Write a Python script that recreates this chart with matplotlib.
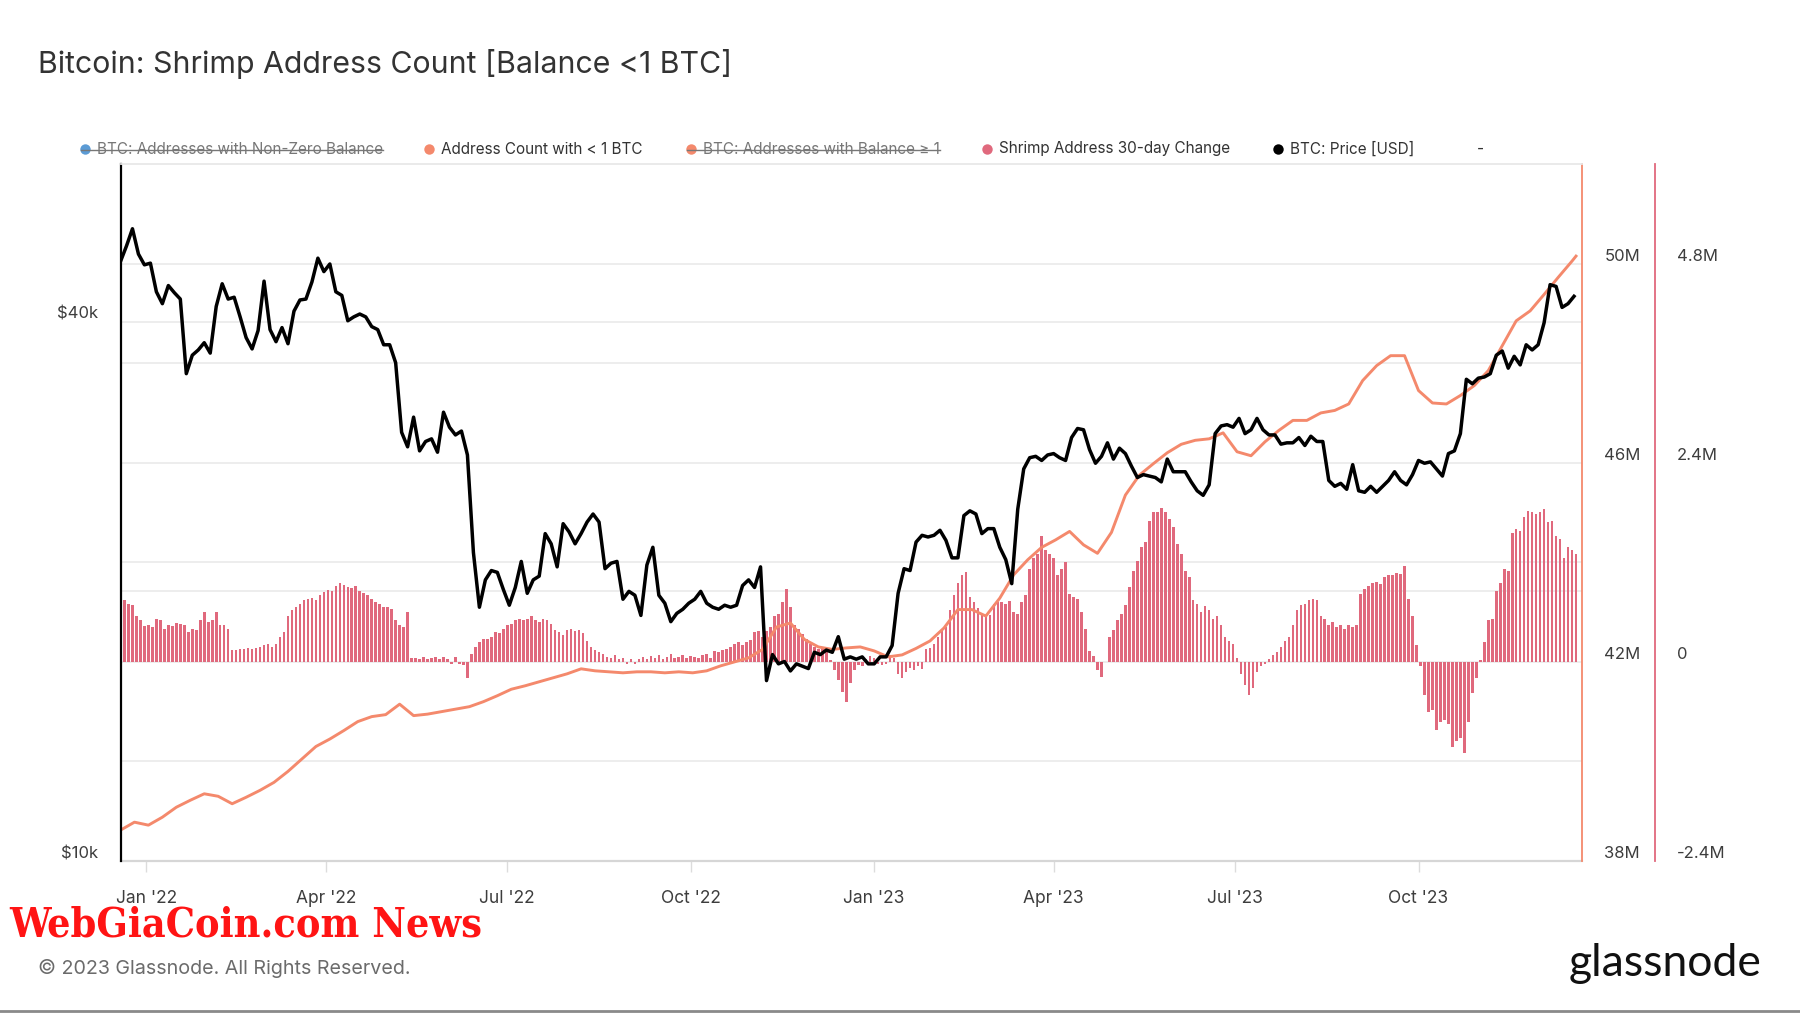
import matplotlib
matplotlib.use("Agg")
import matplotlib.pyplot as plt
import matplotlib.dates as mdates
import matplotlib.ticker as mticker
from matplotlib.transforms import blended_transform_factory
from matplotlib.lines import Line2D
import pandas as pd

plt.rcParams['font.family'] = ['Inter', 'DejaVu Sans']

# BTC price [k USD], one value every 3 days from 2021-12-19
price_k = [
    46.7, 48.6, 50.8, 47.6, 46.3,
    46.5, 43.2, 41.9, 43.9, 43.1, 42.4, 35.0, 36.7, 37.2, 37.9,
    36.9, 41.6, 44.1, 42.4, 42.6, 40.5, 38.4, 37.3, 39.1,
    44.4, 39.2, 38.0, 39.4, 37.8, 41.1, 42.3, 42.4, 44.3, 47.1, 45.5,
    46.4, 43.2, 42.8, 40.1, 40.5, 40.8, 40.5, 39.5, 39.2, 37.7,
    37.7, 36.0, 30.1, 29.0, 31.3, 28.7, 29.4, 29.6, 28.6, 31.7,
    30.5, 29.9, 30.2, 28.4, 22.1, 19.2, 20.6, 21.1, 21.0, 20.1,
    19.3, 20.2, 21.6, 19.9, 20.6, 20.8, 23.2, 22.6, 21.3, 23.8,
    23.3, 22.6, 23.2, 23.9, 24.4, 23.9, 21.2, 21.5, 21.6, 19.6, 20.0,
    19.8, 18.8, 21.4, 22.4, 19.8, 19.4, 18.5, 18.9, 19.1, 19.4,
    19.6, 20.0, 19.4, 19.2, 19.1, 19.3, 19.2, 19.3, 20.3, 20.6,
    20.2, 21.3, 15.9, 17.0, 16.6, 16.7, 16.3, 16.6, 16.5, 16.4,
    17.1, 17.0, 17.2, 17.1, 17.8, 16.8, 16.9, 16.8, 16.9, 16.6,
    16.6, 16.9, 16.9, 17.4, 19.9, 21.2, 21.1, 22.7, 23.1, 23.0, 23.1,
    23.4, 22.8, 21.8, 21.8, 24.3, 24.6, 24.4, 23.2, 23.5,
    23.5, 22.4, 21.7, 20.4, 24.7, 27.4, 28.2, 28.3, 28.0, 28.4,
    28.5, 28.2, 28.0, 29.7, 30.4, 30.3, 28.8, 27.8, 28.3, 29.3,
    28.1, 28.9, 28.5, 27.6, 26.8, 27.0, 26.9, 26.8, 26.5, 28.1, 27.2,
    27.2, 27.2, 26.5, 25.9, 25.6, 26.3, 30.0, 30.6, 30.7, 30.5,
    31.2, 30.0, 30.3, 31.2, 30.3, 29.9, 29.9, 29.2, 29.3, 29.3,
    29.7, 29.1, 29.8, 29.4, 29.4, 26.6, 26.2, 26.4, 26.0, 27.7,
    25.9, 25.8, 26.2, 25.8, 26.2, 26.6, 27.2, 26.6, 26.3, 27.0,
    28.0, 27.8, 27.9, 27.4, 26.9, 28.5, 28.7, 30.0, 34.5, 34.1, 34.6,
    34.7, 35.0, 36.7, 37.1, 35.5, 36.6, 35.8, 37.7, 37.2, 37.7,
    39.9, 44.0, 43.8, 41.5, 41.9, 42.7,
]

# Address count with < 1 BTC [M], weekly from 2021-12-19, last point 2023-12-19
shrimp_count_m = [
    38.62, 38.78, 38.72, 38.88, 39.08, 39.22, 39.35, 39.30, 39.15, 39.28,
    39.42, 39.58, 39.80, 40.05, 40.30, 40.45, 40.62, 40.80, 40.90, 40.94,
    41.15, 40.92, 40.95, 41.00, 41.05, 41.10, 41.20, 41.32, 41.45, 41.52,
    41.60, 41.68, 41.76, 41.86, 41.82, 41.80, 41.78, 41.80, 41.80, 41.78,
    41.80, 41.78, 41.82, 41.92, 42.00, 42.08, 42.25, 42.70, 42.78, 42.45,
    42.30, 42.25, 42.28, 42.30, 42.22, 42.10, 42.14, 42.27, 42.42, 42.68,
    43.05, 43.05, 42.92, 43.28, 43.75, 44.05, 44.30, 44.45, 44.62, 44.35,
    44.18, 44.60, 45.35, 45.75, 45.98, 46.20, 46.37, 46.45, 46.48, 46.60,
    46.22, 46.14, 46.42, 46.65, 46.85, 46.85, 47.00, 47.05, 47.18, 47.65,
    47.95, 48.15, 48.15, 47.45, 47.20, 47.18, 47.35, 47.55, 47.85, 48.35,
    48.85, 49.05, 49.38, 49.72, 50.05,
    50.15,
]

# Shrimp address 30-day change [M], one bar every 2 days from 2021-12-19
change_30d_m = [
    0.72, 0.75, 0.70, 0.68, 0.55, 0.50, 0.43, 0.44, 0.42, 0.52,
    0.50, 0.40, 0.45, 0.43, 0.47, 0.46, 0.44, 0.36, 0.40, 0.38,
    0.50, 0.60, 0.48, 0.50, 0.60, 0.45, 0.45, 0.40, 0.14, 0.14,
    0.15, 0.16, 0.17, 0.16, 0.17, 0.18, 0.20, 0.21, 0.18, 0.22,
    0.30, 0.36, 0.55, 0.62, 0.66, 0.70, 0.74, 0.76, 0.77, 0.75,
    0.80, 0.84, 0.86, 0.85, 0.92, 0.95, 0.93, 0.90, 0.89, 0.91,
    0.85, 0.83, 0.80, 0.76, 0.72, 0.70, 0.66, 0.66, 0.64, 0.50,
    0.45, 0.42, 0.60, 0.05, 0.05, 0.04, 0.06, 0.03, 0.05, 0.06,
    0.04, 0.06, 0.03, -0.03, 0.06, -0.02, -0.04, -0.20, 0.10, 0.18,
    0.24, 0.27, 0.28, 0.30, 0.36, 0.35, 0.40, 0.45, 0.46, 0.50,
    0.52, 0.50, 0.52, 0.55, 0.50, 0.48, 0.52, 0.50, 0.46, 0.38,
    0.36, 0.32, 0.38, 0.40, 0.37, 0.38, 0.35, 0.25, 0.18, 0.14,
    0.12, 0.10, 0.06, 0.05, 0.08, 0.03, 0.05, -0.02, 0.03, -0.03,
    0.04, 0.06, 0.03, 0.07, 0.05, 0.08, 0.04, 0.06, 0.09, 0.05,
    0.06, 0.08, 0.05, 0.07, 0.06, 0.05, 0.08, 0.09, 0.05, 0.13,
    0.12, 0.14, 0.16, 0.18, 0.22, 0.24, 0.20, 0.24, 0.26, 0.36,
    0.37, 0.30, 0.37, 0.42, 0.55, 0.58, 0.72, 0.88, 0.66, 0.45,
    0.40, 0.34, 0.28, 0.22, 0.18, 0.16, 0.18, 0.12, 0.02, -0.10,
    -0.22, -0.36, -0.48, -0.25, -0.10, -0.04, -0.05, 0.04, 0.07, 0.05,
    -0.03, -0.04, -0.02, 0.08, 0.05, -0.15, -0.20, -0.12, -0.08, -0.10,
    -0.05, -0.09, 0.15, 0.17, 0.22, 0.30, 0.38, 0.42, 0.62, 0.80,
    0.95, 1.05, 1.08, 0.78, 0.72, 0.65, 0.56, 0.55, 0.57, 0.70,
    0.72, 0.72, 0.70, 0.73, 0.60, 0.58, 0.72, 0.80, 1.12, 1.25,
    1.30, 1.52, 1.35, 1.30, 1.25, 1.05, 1.12, 1.20, 0.82, 0.78,
    0.76, 0.60, 0.40, 0.13, 0.07, -0.10, -0.18, 0.00, 0.30, 0.38,
    0.50, 0.58, 0.68, 0.90, 1.10, 1.22, 1.38, 1.45, 1.70, 1.80,
    1.80, 1.86, 1.80, 1.72, 1.62, 1.42, 1.30, 1.10, 1.02, 0.75,
    0.70, 0.60, 0.67, 0.62, 0.52, 0.55, 0.45, 0.30, 0.25, 0.22,
    0.05, -0.15, -0.28, -0.40, -0.32, -0.12, -0.05, -0.02, 0.03, 0.08,
    0.12, 0.18, 0.25, 0.30, 0.45, 0.62, 0.68, 0.70, 0.74, 0.76,
    0.74, 0.55, 0.52, 0.45, 0.48, 0.42, 0.45, 0.40, 0.44, 0.42,
    0.45, 0.82, 0.88, 0.92, 0.95, 0.96, 0.94, 1.02, 1.05, 1.05,
    1.07, 1.06, 1.16, 0.76, 0.55, 0.20, -0.05, -0.40, -0.60, -0.58,
    -0.82, -0.72, -0.70, -0.75, -1.03, -0.95, -0.92, -1.10, -0.72, -0.38,
    -0.20, 0.02, 0.24, 0.50, 0.52, 0.85, 0.95, 1.12, 1.10, 1.55,
    1.60, 1.58, 1.75, 1.82, 1.80, 1.78, 1.80, 1.84, 1.68, 1.70,
    1.52, 1.48, 1.25, 1.38, 1.35, 1.30,
]

legend_labels = [
    "BTC: Addresses with Non-Zero Balance",
    "Address Count with < 1 BTC",
    "BTC: Addresses with Balance \u2265 1",
    "Shrimp Address 30-day Change",
    "BTC: Price [USD]",
]
legend_hidden = [True, False, True, False, False]

price_ticks = [10, 40]
price_tick_labels = ["$10k", "$40k"]
price_grid = [20, 40]
count_ticks = [38, 42, 46, 50]
count_tick_labels = ["38M", "42M", "46M", "50M"]
count_grid = [40, 42, 44, 46, 48, 50]
change_ticks = [-2.4, 0, 2.4, 4.8]
change_tick_labels = ["-2.4M", "0", "2.4M", "4.8M"]

BLACK = "#000000"
SALMON = "#f4896c"
CRIMSON = "#e0697d"
BLUE = "#5b9bd5"
GRID = "#e8e8e8"
TXT = "#3d3d3d"
legend_colors = [BLUE, SALMON, SALMON, CRIMSON, BLACK]

price_dates = pd.date_range("2021-12-19", periods=len(price_k), freq="3D")
count_dates = pd.date_range("2021-12-19", periods=len(shrimp_count_m) - 1, freq="7D")
count_dates = count_dates.append(pd.DatetimeIndex(["2023-12-19"]))
change_dates = pd.date_range("2021-12-19", periods=len(change_30d_m), freq="2D")

W, H = 1800, 1013
fig = plt.figure(figsize=(W / 100, H / 100), dpi=100)
fig.patch.set_facecolor("white")

rect = [120.5 / W, 1 - 861 / H, (1582 - 120.5) / W, (861 - 164) / H]
ax_bar = fig.add_axes(rect)
ax_cnt = ax_bar.twinx()
ax_px = ax_bar.twinx()

# 30-day change bars
ax_bar.bar(change_dates, change_30d_m, width=1.3, color=CRIMSON, linewidth=0, zorder=2)
ax_bar.set_ylim(-2.4, 6.0)

# address count line
ax_cnt.plot(count_dates, shrimp_count_m, color=SALMON, lw=2.1, solid_joinstyle="round")
ax_cnt.set_ylim(38, 52)

# price line
ax_px.plot(price_dates, price_k, color=BLACK, lw=2.5, solid_joinstyle="round")
ax_px.set_yscale("log")
ax_px.set_ylim(10, 60)

ax_bar.set_xlim(pd.Timestamp("2021-12-19"), pd.Timestamp("2023-12-22"))

# gridlines (behind the bars)
tr_cnt = blended_transform_factory(ax_bar.transAxes, ax_cnt.transData)
tr_px = blended_transform_factory(ax_bar.transAxes, ax_px.transData)
for v in count_grid:
    ax_bar.plot([0, 1], [v, v], transform=tr_cnt, color=GRID, lw=1.1, zorder=0)
for v in price_grid:
    ax_bar.plot([0, 1], [v, v], transform=tr_px, color=GRID, lw=1.1, zorder=0)

# spines
for s in ["left", "top"]:
    ax_bar.spines[s].set_visible(False)
ax_bar.spines["bottom"].set_color("#d6d6d6")
ax_bar.spines["bottom"].set_linewidth(1.6)
ax_bar.spines["right"].set_position(("outward", 52.5))
ax_bar.spines["right"].set_color(CRIMSON)
ax_bar.spines["right"].set_linewidth(1.3)

for s in ["left", "top", "bottom"]:
    ax_cnt.spines[s].set_visible(False)
ax_cnt.spines["right"].set_color(SALMON)
ax_cnt.spines["right"].set_linewidth(1.3)

ax_px.spines["right"].set_visible(False)
ax_px.spines["bottom"].set_visible(False)
ax_px.spines["top"].set_color(GRID)
ax_px.spines["top"].set_linewidth(1.3)
ax_px.spines["left"].set_color(BLACK)
ax_px.spines["left"].set_linewidth(1.6)

# y ticks
ax_px.yaxis.tick_left()
ax_px.yaxis.set_major_locator(mticker.FixedLocator(price_ticks))
ax_px.yaxis.set_minor_locator(mticker.NullLocator())
ax_px.set_yticklabels(price_tick_labels)
ax_px.tick_params(axis="y", length=0, pad=16, labelsize=12, labelcolor=TXT)

ax_cnt.set_yticks(count_ticks)
ax_cnt.set_yticklabels(count_tick_labels)
ax_cnt.tick_params(axis="y", length=0, pad=16, labelsize=12, labelcolor=TXT)

ax_bar.yaxis.tick_right()
ax_bar.set_yticks(change_ticks)
ax_bar.set_yticklabels(change_tick_labels)
ax_bar.tick_params(axis="y", length=0, pad=16, labelsize=12, labelcolor=TXT)

for a in (ax_px, ax_cnt, ax_bar):
    for lab in a.get_yticklabels():
        lab.set_verticalalignment("bottom")

# x ticks
ax_bar.xaxis.set_major_locator(mdates.MonthLocator(bymonth=[1, 4, 7, 10]))
ax_bar.xaxis.set_major_formatter(mdates.DateFormatter("%b '%y"))
ax_bar.tick_params(axis="x", length=8, width=1, color="#dcdcdc", pad=13,
                   labelsize=12.5, labelcolor=TXT)

# title, legend, footer
fig.text(38 / W, 1 - 64 / H, "Bitcoin: Shrimp Address Count [Balance <1 BTC]",
         fontsize=21.8, color="#333333", va="center")

legend_dot_x = [85, 429, 691, 987, 1278]
leg_y = 1 - 149 / H
leg_texts = []
for lbl, col, hid, dx in zip(legend_labels, legend_colors, legend_hidden, legend_dot_x):
    fig.add_artist(Line2D([dx / W], [leg_y], marker="o", ms=7.5, color=col,
                          mec="none", transform=fig.transFigure))
    t = fig.text((dx + 12) / W, leg_y, lbl, fontsize=11, va="center",
                 color="#777777" if hid else "#333333")
    leg_texts.append((t, hid, dx))
fig.text(1477 / W, leg_y, "-", fontsize=11, va="center", color="#333333")

fig.text(38 / W, 1 - 968 / H, "\u00a9 2023 Glassnode. All Rights Reserved.",
         fontsize=14.2, color="#6b6b6b", va="center")
fig.text(9 / W, 1 - 925 / H, "WebGiaCoin.com News", fontsize=29.5, color="#ff1414",
         fontweight="bold", family="DejaVu Serif", fontstretch="condensed", va="center")
fig.text(1762 / W, 1 - 963 / H, "glassnode", fontsize=32, color="#111111",
         ha="right", va="center", family="Lato")
fig.add_artist(Line2D([0, 1], [0.0015, 0.0015], color="#8a8a8a", lw=2,
                      transform=fig.transFigure))

# strike-through for hidden legend entries
fig.canvas.draw()
renderer = fig.canvas.get_renderer()
for t, hid, dx in leg_texts:
    if not hid:
        continue
    bb = t.get_window_extent(renderer)
    yy = (bb.y0 + bb.height * 0.45) / H
    fig.add_artist(Line2D([(dx - 4) / W, bb.x1 / W], [yy, yy], color="#777777",
                          lw=1, transform=fig.transFigure))

fig.savefig("out.png", dpi=100)
